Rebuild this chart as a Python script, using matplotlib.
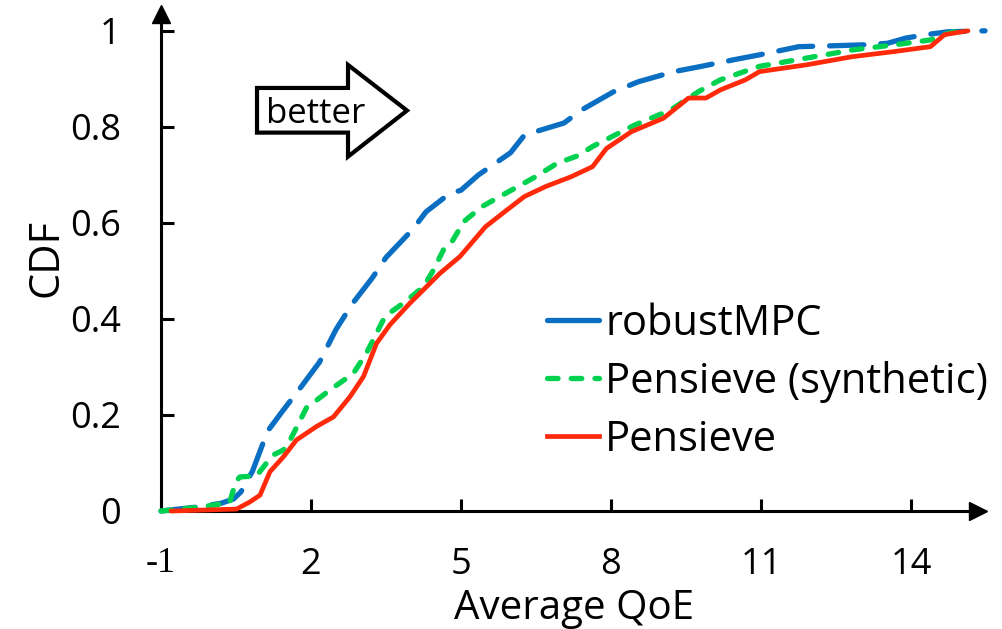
import matplotlib
matplotlib.use("Agg")
import matplotlib.pyplot as plt
from matplotlib.patches import Polygon
from matplotlib.lines import Line2D

plt.rcParams['font.family'] = ['Open Sans', 'DejaVu Sans']

# CDF of average QoE
mpc_x = [-1.0, -0.3, 0.2, 0.45, 0.6, 0.83, 1.13, 1.43, 1.77, 2.17, 2.5, 2.83,
         3.23, 3.5, 4.03, 4.3, 4.77, 5.0, 5.35, 5.99, 6.27, 7.06, 7.41, 8.05,
         8.55, 9.26, 9.76, 10.47, 10.97, 11.76, 12.5, 13.1, 13.53, 13.9, 14.3,
         14.74, 15.48]
mpc_y = [0.0, 0.008, 0.016, 0.025, 0.04, 0.083, 0.166, 0.208, 0.254, 0.31,
         0.378, 0.432, 0.486, 0.528, 0.586, 0.623, 0.661, 0.668, 0.70, 0.746,
         0.783, 0.808, 0.835, 0.873, 0.894, 0.915, 0.925, 0.94, 0.95, 0.967,
         0.969, 0.971, 0.974, 0.985, 0.992, 0.998, 1.0]

syn_x = [-1.0, -0.23, 0.37, 0.5, 0.58, 0.91, 1.23, 1.45, 1.57, 1.91, 2.38,
         2.85, 3.11, 3.43, 3.51, 3.85, 4.25, 4.45, 4.65, 4.78, 5.06, 5.42,
         5.78, 6.49, 6.92, 7.34, 7.63, 8.48, 9.19, 9.76, 10.19, 10.97, 11.9,
         12.82, 13.68, 14.39, 14.74, 14.98]
syn_y = [0.0, 0.008, 0.017, 0.062, 0.071, 0.073, 0.116, 0.127, 0.145, 0.215,
         0.252, 0.287, 0.329, 0.395, 0.408, 0.433, 0.467, 0.502, 0.544, 0.554,
         0.603, 0.634, 0.655, 0.696, 0.724, 0.74, 0.759, 0.804, 0.835, 0.874,
         0.898, 0.926, 0.943, 0.96, 0.971, 0.981, 0.995, 1.0]

pen_x = [-0.8, 0.51, 0.78, 0.98, 1.18, 1.45, 1.71, 2.11, 2.45, 2.78, 3.05,
         3.31, 3.58, 3.98, 4.31, 4.58, 4.98, 5.21, 5.49, 5.92, 6.27, 6.7, 7.2,
         7.63, 7.91, 8.41, 9.05, 9.55, 9.9, 10.19, 10.69, 10.97, 11.9, 12.82,
         13.68, 14.39, 14.67, 15.14]
pen_y = [0.0, 0.004, 0.019, 0.033, 0.082, 0.113, 0.148, 0.176, 0.196, 0.238,
         0.28, 0.349, 0.388, 0.433, 0.467, 0.495, 0.53, 0.558, 0.592, 0.627,
         0.655, 0.676, 0.696, 0.717, 0.755, 0.79, 0.818, 0.86, 0.86, 0.877,
         0.898, 0.915, 0.929, 0.946, 0.957, 0.967, 0.992, 1.0]

series_names = ['robustMPC', 'Pensieve (synthetic)', 'Pensieve']
xticks = [-1, 2, 5, 8, 11, 14]
yticks = [0, 0.2, 0.4, 0.6, 0.8, 1]
ytick_labels = ['0', '0.2', '0.4', '0.6', '0.8', '1']

BLUE = '#0a6fc2'
GREEN = '#00d14f'
RED = '#ff2a0a'

fig = plt.figure(figsize=(10.02, 6.29), dpi=100)
ax = fig.add_axes([161 / 1002, 118 / 629, 817 / 1002, 497 / 629])

ax.plot(mpc_x, mpc_y, color=BLUE, lw=3.8, dashes=(6.5, 3.2),
        dash_capstyle='round', clip_on=False, zorder=3)
ax.plot(syn_x, syn_y, color=GREEN, lw=3.8, dashes=(2, 2.5),
        dash_capstyle='round', clip_on=False, zorder=4)
ax.plot(pen_x, pen_y, color=RED, lw=3.4, solid_capstyle='round',
        clip_on=False, zorder=5)

ax.set_xlim(-1, 15.34)
ax.set_ylim(0, 1.035)

for s in ['top', 'right']:
    ax.spines[s].set_visible(False)
for s in ['left', 'bottom']:
    ax.spines[s].set_linewidth(2.2)

# arrow heads on the axes
ax.plot(1, 0, '>', color='black', ms=13, transform=ax.get_yaxis_transform(),
        clip_on=False, zorder=6)
ax.plot(-1, 1, '^', color='black', ms=13, transform=ax.get_xaxis_transform(),
        clip_on=False, zorder=6)

ax.set_xticks(xticks)
ax.set_xticklabels([str(t) for t in xticks])
ax.set_yticks(yticks)
ax.set_yticklabels(ytick_labels)
ax.tick_params(axis='x', direction='in', length=9, width=2.2, pad=26,
               labelsize=26)
ax.tick_params(axis='y', direction='in', length=9, width=2.2, pad=29,
               labelsize=26)
ax.get_xticklabels()[0].set_family(['Liberation Serif'])

ax.set_xlabel('Average QoE', fontsize=29)
ax.xaxis.set_label_coords(0.505, -0.155)
ax.set_ylabel('CDF', fontsize=30)
ax.yaxis.set_label_coords(-0.115, 0.51)

# "better" block arrow
arrow = Polygon([(0.92, 0.788), (2.74, 0.788), (2.74, 0.738), (3.92, 0.834),
                 (2.74, 0.929), (2.74, 0.881), (0.92, 0.881)],
                closed=True, fc='white', ec='black', lw=3, joinstyle='miter',
                zorder=6)
ax.add_patch(arrow)
ax.text(2.1, 0.826, 'better', fontsize=25, ha='center', va='center',
        zorder=7)

handles = [Line2D([], [], color=BLUE, lw=3.8, solid_capstyle='round'),
           Line2D([], [], color=GREEN, lw=3.8, dashes=(2, 2.5),
                  dash_capstyle='round'),
           Line2D([], [], color=RED, lw=3.4)]
ax.legend(handles, series_names, loc='upper left',
          bbox_to_anchor=(547 / 1002, 1 - 303 / 629),
          bbox_transform=fig.transFigure, frameon=False, fontsize=30,
          handlelength=1.25, handletextpad=0.15, labelspacing=0.38,
          borderpad=0, borderaxespad=0)

fig.savefig('out.png', dpi=100)
